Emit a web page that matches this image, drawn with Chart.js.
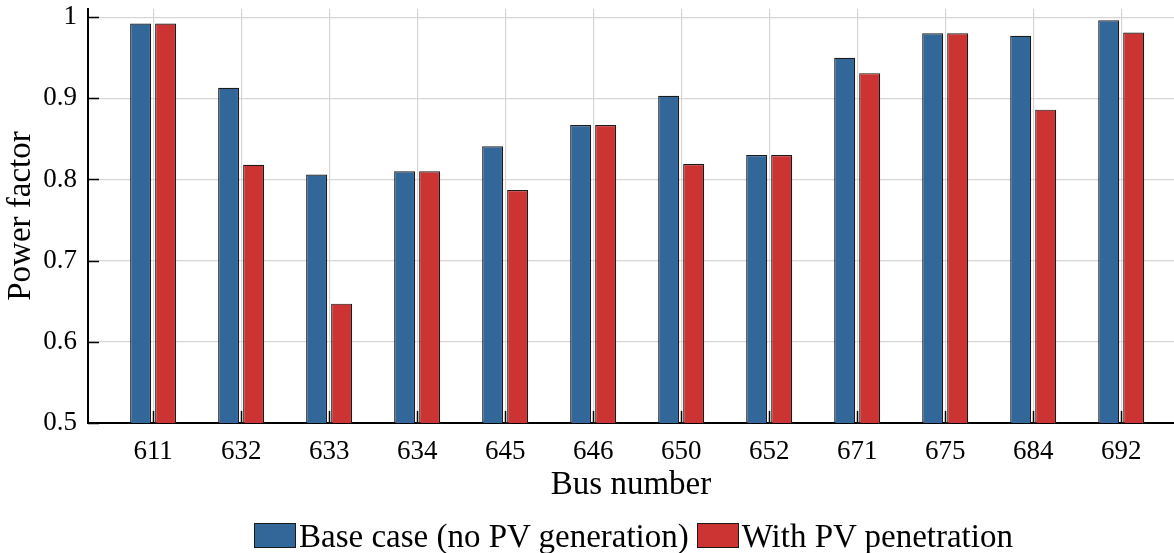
<!DOCTYPE html>
<html>
<head>
<meta charset="utf-8">
<script src="https://cdn.jsdelivr.net/npm/chart.js@4.4.0/dist/chart.umd.min.js"></script>
<style>
html,body{margin:0;padding:0;background:#fff;overflow:hidden;}
#wrap{width:1174px;height:553px;position:relative;}
#legend{position:absolute;left:254px;top:518px;height:36px;white-space:nowrap;
  font-family:'Liberation Serif','Times New Roman',serif;font-size:33px;line-height:36px;color:#000;}
#legend .item{display:inline-block;margin-right:8px;}
#legend .box{display:inline-block;width:40px;height:23px;border:1px solid #1a1a1a;vertical-align:-1px;margin-right:3px;}
</style>
</head>
<body>
<div id="wrap"><canvas id="c" width="1174" height="553"></canvas><div id="legend"></div></div>
<script>
const busLabels = ['611','632','633','634','645','646','650','652','671','675','684','692'];
const baseCase = [0.992,0.913,0.806,0.810,0.841,0.867,0.903,0.830,0.950,0.980,0.977,0.996];
const withPV   = [0.992,0.818,0.647,0.810,0.787,0.867,0.819,0.830,0.931,0.980,0.886,0.981];
const yTicks = [0.5,0.6,0.7,0.8,0.9,1.0];
const seriesNames = ['Base case (no PV generation)','With PV penetration'];
const seriesColors = ['#336699','#cc3333'];

const FONT = "'Liberation Serif','Times New Roman',serif";
const toPts = arr => arr.map((v,i)=>({x:i+1,y:v}));

const innerTicks = {
  id:'innerTicks',
  afterDatasetsDraw(chart){
    const {ctx, chartArea, scales:{x,y}} = chart;
    ctx.save();
    ctx.strokeStyle = '#000';
    ctx.lineWidth = 1.5;
    ctx.beginPath();
    busLabels.forEach((_,i)=>{
      const px = Math.round(x.getPixelForValue(i+1))+0.5;
      ctx.moveTo(px, chartArea.bottom);
      ctx.lineTo(px, chartArea.bottom-12);
    });
    yTicks.forEach(v=>{
      const py = Math.round(y.getPixelForValue(v))+0.5;
      ctx.moveTo(chartArea.left, py);
      ctx.lineTo(chartArea.left+11, py);
    });
    ctx.stroke();
    ctx.restore();
  }
};

const chart = new Chart(document.getElementById('c'), {
  type:'bar',
  data:{
    datasets:[
      {label:seriesNames[0], data:toPts(baseCase), backgroundColor:seriesColors[0], borderColor:'#1a1a1a', borderWidth:1.2, borderSkipped:false},
      {label:seriesNames[1], data:toPts(withPV), backgroundColor:seriesColors[1], borderColor:'#1a1a1a', borderWidth:1.2, borderSkipped:false}
    ]
  },
  options:{
    responsive:false,
    animation:false,
    devicePixelRatio:1,
    categoryPercentage:0.568,
    barPercentage:0.84,
    layout:{padding:{top:9,right:0,left:0,bottom:0}},
    plugins:{
      legend:{display:false},
      tooltip:{enabled:false}
    },
    scales:{
      x:{
        type:'linear',
        min:0.26, max:12.6,
        offset:false,
        afterBuildTicks(s){ s.ticks = busLabels.map((_,i)=>({value:i+1})); },
        afterFit(s){ s.height = 130; s.paddingLeft = 0; s.paddingRight = 0; },
        grid:{offset:false,color:'#d6d6d6',lineWidth:1.2,drawTicks:false},
        border:{display:true,color:'#000',width:2},
        ticks:{autoSkip:false,maxRotation:0,padding:13,color:'#000',font:{family:FONT,size:27},
          callback:(v)=>busLabels[Math.round(v)-1]},
        title:{display:true,text:'Bus number',color:'#000',font:{family:FONT,size:33},padding:{top:0,bottom:48}}
      },
      y:{
        min:0.5, max:1.01,
        afterBuildTicks(s){ s.ticks = yTicks.map(v=>({value:v})); },
        afterFit(s){ s.width = 88; s.paddingTop = 0; s.paddingBottom = 0; },
        grid:{color:'#d6d6d6',lineWidth:1.2,drawTicks:false},
        border:{display:true,color:'#000',width:2},
        ticks:{padding:11,color:'#000',font:{family:FONT,size:27},
          callback:(v)=> v===1 ? '1' : v.toFixed(1)},
        title:{display:true,text:'Power factor',color:'#000',font:{family:FONT,size:33},padding:{top:2,bottom:0}}
      }
    }
  },
  plugins:[innerTicks]
});

const legendEl = document.getElementById('legend');
seriesNames.forEach((name,i)=>{
  const item = document.createElement('span');
  item.className = 'item';
  const box = document.createElement('span');
  box.className = 'box';
  box.style.background = seriesColors[i];
  item.appendChild(box);
  item.appendChild(document.createTextNode(name));
  legendEl.appendChild(item);
});
</script>
</body>
</html>
